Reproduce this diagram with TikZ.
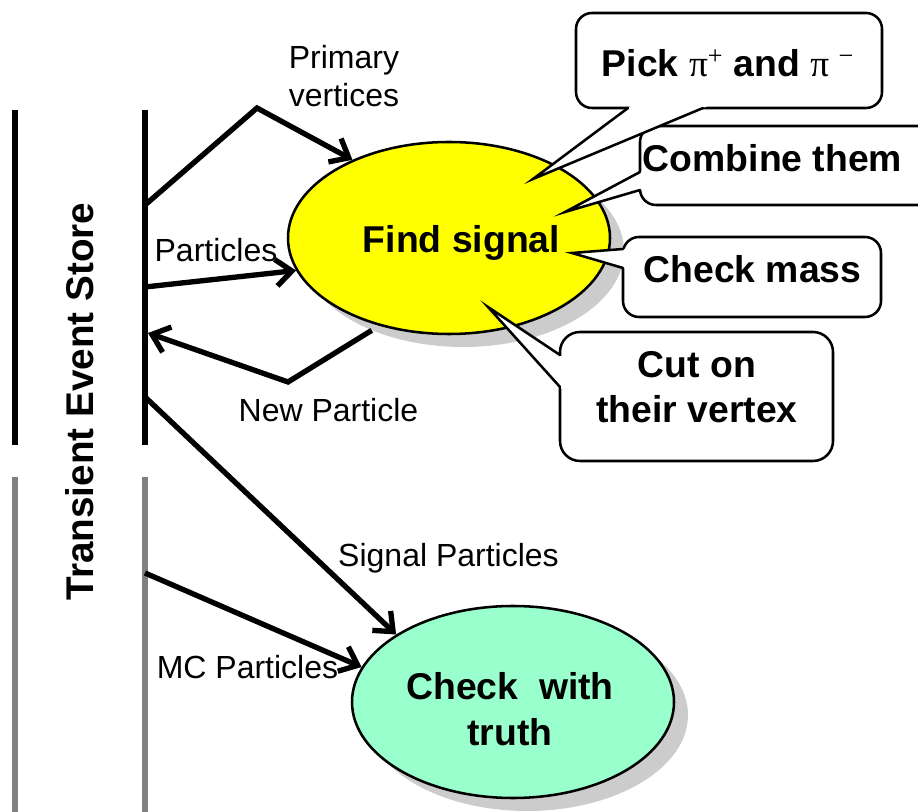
\documentclass[tikz,border=0pt]{standalone}
\usepackage{fontspec}
\setmainfont{Liberation Sans}
\newfontfamily\greekserif{Liberation Serif}
\usetikzlibrary{arrows.meta,calc,shapes.geometric}

\definecolor{yellowfill}{HTML}{FFFF00}
\definecolor{greenfill}{HTML}{99FFCC}
\definecolor{storegray}{HTML}{808080}
\definecolor{shadowgray}{HTML}{CCCCCC}

\tikzset{
  flow/.style={line width=4pt, -{Straight Barb[length=12pt,width=20pt]}},
  storeline/.style={line width=4.5pt},
  process/.style={ellipse, draw=black, line width=1.9pt,
    minimum width=241.5pt, minimum height=144pt, inner sep=0pt},
  procshadow/.style={ellipse, fill=shadowgray,
    minimum width=241.5pt, minimum height=144pt, inner sep=0pt},
  lbl/.style={font=\fontsize{24}{28}\selectfont, anchor=base, inner sep=0pt},
  boldtxt/.style={font=\bfseries\fontsize{28}{32}\selectfont, anchor=base, inner sep=0pt},
  bubble/.style={draw=black, fill=white, line width=1.9pt, rounded corners=12pt},
  bubbleedge/.style={draw=black, line width=1.9pt, line join=miter, line cap=round},
}

% pointer of a speech bubble: #1 tip, #2 and #3 where it leaves the box
\newcommand\bubbletail[3]{%
  \fill[white] (#1) -- ($(#2)!-5pt!(#1)$) -- ($(#3)!-5pt!(#1)$) -- cycle;
  \draw[bubbleedge] (#2) -- (#1) -- (#3);}

\begin{document}
\begin{tikzpicture}[x=0.75pt,y=-0.75pt]
\useasboundingbox (0,0) rectangle (918,812);
\clip (0,0) rectangle (918,812);

% event store walls
\draw[storeline] (15,110) -- (15,445);
\draw[storeline] (145,110) -- (145,445);
\draw[storeline, storegray] (15,477) -- (15,812);
\draw[storeline, storegray] (145,477) -- (145,812);
\node[boldtxt, font=\bfseries\fontsize{29}{32}\selectfont, rotate=90] (store) at (93,401.5) {Transient Event Store};

% points on the store
\coordinate (s1) at (145,205);
\coordinate (b1) at (257,108);
\coordinate (s2) at (145,287);
\coordinate (s3) at (148,333);
\coordinate (b3) at (288,382);
\coordinate (s4) at (145,397);
\coordinate (s5) at (145,573);

% algorithms
\node[procshadow] (findsh) at (463,251) {};
\node[process, fill=yellowfill] (find) at (449,238) {};
\node[procshadow] (truthsh) at (527,715) {};
\node[process, fill=greenfill] (truth) at (513,702) {};

% data flow
\draw[flow] (s1) -- (b1) -- (find.141);
\draw[flow] (s2) -- (find.192);
\draw[flow] (findsh.221) -- (b3) -- (s3);
\draw[flow] (s4) -- (truth.150);
\draw[flow] (s5) -- (truth.167);

\node[lbl] (primary1) at (344,69) {Primary};
\node[lbl] (primary2) at (344,107) {vertices};
\node[lbl] (particles) at (216,262) {Particles};
\node[lbl] (newpart) at (328.5,422) {New Particle};
\node[lbl] (sigpart) at (448.5,567) {Signal Particles};
\node[lbl] (mcpart) at (247.5,679) {MC Particles};

% speech bubbles
\coordinate (combtip) at (565,212);
\coordinate (combA) at (640,172);
\coordinate (combB) at (640,190);
\draw[bubble] (640,126) rectangle (935,205);
\bubbletail{combtip}{combA}{combB}

\coordinate (masstip) at (572,253);
\coordinate (massA) at (623,249);
\coordinate (massB) at (623,268);
\draw[bubble] (623,237) rectangle (881,317);
\bubbletail{masstip}{massA}{massB}

\coordinate (cuttip) at (488,307);
\coordinate (cutA) at (560,355);
\coordinate (cutB) at (560,387);
\draw[bubble, rounded corners=15pt] (560,332) rectangle (833,461);
\bubbletail{cuttip}{cutA}{cutB}

\coordinate (picktip) at (533,179);
\coordinate (pickA) at (628,108);
\coordinate (pickB) at (703,108);
\draw[bubble] (576,13) rectangle (882,108);
\bubbletail{picktip}{pickA}{pickB}

% texts
\node[boldtxt] (findtext) at (461.5,253) {Find signal};
\node[boldtxt] (truth1) at (510,700) {Check\ \ with};
\node[boldtxt] (truth2) at (510,745) {truth};
\node[boldtxt] (picktext) at (728,77) {Pick {\greekserif\mdseries π\textsuperscript{+}} and {\greekserif\mdseries π\ \textsuperscript{−}}};
\node[boldtxt] (combtext) at (772.5,172) {Combine them};
\node[boldtxt] (masstext) at (752.5,283) {Check mass};
\node[boldtxt] (cut1) at (697,378) {Cut on};
\node[boldtxt] (cut2) at (697,423) {their vertex};
\end{tikzpicture}
\end{document}
